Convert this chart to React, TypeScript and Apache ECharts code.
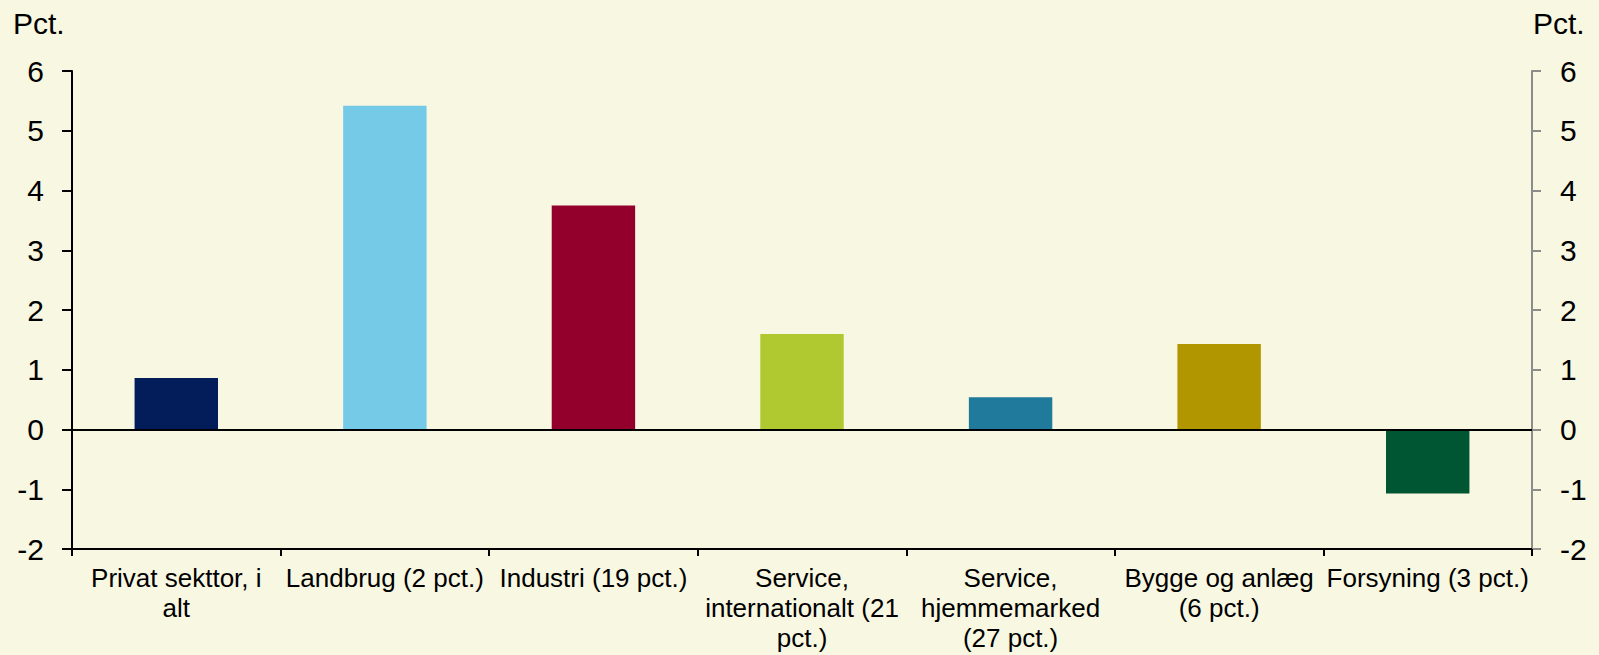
import React, { useEffect, useRef } from "react";
import * as echarts from "echarts";

const categories = [
  "Privat sekttor, i\nalt",
  "Landbrug (2 pct.)",
  "Industri (19 pct.)",
  "Service,\ninternationalt (21\npct.)",
  "Service,\nhjemmemarked\n(27 pct.)",
  "Bygge og anlæg\n(6 pct.)",
  "Forsyning (3 pct.)",
];
const values = [0.86, 5.42, 3.75, 1.6, 0.54, 1.43, -1.07];
const barColors = ["#031C5A", "#75CAE8", "#93002C", "#B0C931", "#1F7A9C", "#B29600", "#005532"];
const yMin = -2;
const yMax = 6;
const yInterval = 1;
const unitLabel = "Pct.";

const FONT = "'Liberation Sans', Arial, sans-serif";

export default function App() {
  const ref = useRef<HTMLDivElement>(null);
  useEffect(() => {
    if (!ref.current) return;
    const chart = echarts.init(ref.current, undefined, { renderer: "svg" });
    const yAxisBase = {
      type: "value",
      min: yMin,
      max: yMax,
      interval: yInterval,
      splitLine: { show: false },
      axisLabel: { fontSize: 30, color: "#000", fontFamily: FONT, margin: 28 },
    };
    chart.setOption({
      animation: false,
      backgroundColor: "#F8F7E1",
      textStyle: { fontFamily: FONT },
      grid: { left: 72, right: 67, top: 71, bottom: 106, containLabel: false },
      graphic: [
        {
          type: "text",
          left: 13,
          top: 8,
          style: { text: unitLabel, fontSize: 30, fill: "#000", fontFamily: FONT },
        },
        {
          type: "text",
          left: 1533,
          top: 8,
          style: { text: unitLabel, fontSize: 30, fill: "#000", fontFamily: FONT },
        },
      ],
      xAxis: {
        type: "category",
        data: categories,
        position: "bottom",
        axisLine: { onZero: false, lineStyle: { color: "#000", width: 2 } },
        axisTick: { show: true, inside: false, length: 7, lineStyle: { color: "#000", width: 2 } },
        axisLabel: {
          interval: 0,
          fontSize: 26,
          lineHeight: 30,
          color: "#000",
          fontFamily: FONT,
          margin: 14,
          align: "center",
        },
      },
      yAxis: [
        {
          ...yAxisBase,
          position: "left",
          axisLine: { show: true, lineStyle: { color: "#000", width: 2 } },
          axisTick: { show: true, inside: false, length: 10, lineStyle: { color: "#000", width: 2 } },
        },
        {
          ...yAxisBase,
          position: "right",
          axisLine: { show: true, lineStyle: { color: "#8C8C8C", width: 2 } },
          axisTick: { show: true, inside: false, length: 9, lineStyle: { color: "#8C8C8C", width: 2 } },
        },
      ],
      series: [
        {
          type: "bar",
          yAxisIndex: 0,
          barWidth: "40%",
          data: values.map((v, i) => ({ value: v, itemStyle: { color: barColors[i] } })),
          markLine: {
            silent: true,
            symbol: "none",
            label: { show: false },
            lineStyle: { color: "#000", width: 2, type: "solid" },
            data: [{ yAxis: 0 }],
          },
        },
      ],
    });
    return () => chart.dispose();
  }, []);
  return (
    <div
      ref={ref}
      style={{ position: "fixed", left: 0, top: 0, width: 1599, height: 655 }}
    />
  );
}
